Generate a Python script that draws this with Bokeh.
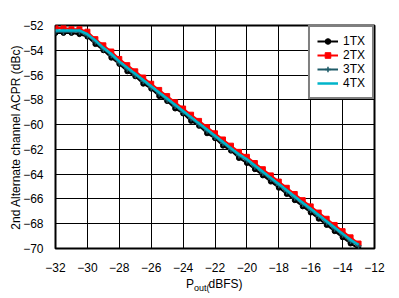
from bokeh.plotting import figure
from bokeh.layouts import column
from bokeh.models import Range1d, FixedTicker, Legend, LegendItem
from bokeh.core.properties import value
from bokeh.embed import file_html
from bokeh.resources import INLINE

pout = [-32, -31.5, -31, -30.5, -30, -29.5, -29, -28.5, -28, -27.5, -27, -26.5, -26,
        -25.5, -25, -24.5, -24, -23.5, -23, -22.5, -22, -21.5, -21, -20.5, -20,
        -19.5, -19, -18.5, -18, -17.5, -17, -16.5, -16, -15.5, -15, -14.5, -14, -13.5, -13]

acpr_1tx = [-52.6, -52.6, -52.6, -52.7, -52.9, -53.5, -54.0, -54.6, -55.1, -55.7, -56.1, -56.7, -57.1,
            -57.7, -58.1, -58.7, -59.1, -59.7, -60.1, -60.7, -61.1, -61.7, -62.1, -62.7, -63.1,
            -63.6, -64.1, -64.6, -65.1, -65.6, -66.1, -66.6, -67.1, -67.6, -68.1, -68.6, -69.1, -69.6, -70.0]
acpr_2tx = [-52.2, -52.2, -52.3, -52.3, -52.5, -53.1, -53.6, -54.1, -54.7, -55.2, -55.7, -56.2, -56.7,
            -57.2, -57.7, -58.2, -58.7, -59.2, -59.7, -60.2, -60.7, -61.2, -61.7, -62.2, -62.6,
            -63.1, -63.6, -64.1, -64.6, -65.1, -65.6, -66.1, -66.6, -67.1, -67.6, -68.1, -68.6, -69.1, -69.6]
acpr_3tx = [-52.5, -52.5, -52.5, -52.5, -52.8, -53.3, -53.9, -54.4, -55.0, -55.5, -56.0, -56.5, -57.0,
            -57.5, -58.0, -58.5, -59.0, -59.5, -60.0, -60.5, -61.0, -61.5, -62.0, -62.5, -62.9,
            -63.4, -63.9, -64.4, -64.9, -65.4, -65.9, -66.4, -66.9, -67.4, -67.9, -68.4, -68.9, -69.4, -69.8]
acpr_4tx = [-52.4, -52.4, -52.4, -52.4, -52.7, -53.2, -53.8, -54.3, -54.9, -55.4, -55.9, -56.4, -56.9,
            -57.4, -57.9, -58.4, -58.9, -59.4, -59.9, -60.4, -60.9, -61.4, -61.9, -62.4, -62.8,
            -63.3, -63.8, -64.3, -64.8, -65.3, -65.8, -66.3, -66.8, -67.3, -67.8, -68.3, -68.8, -69.3, -69.7]

series_names = ["1TX", "2TX", "3TX", "4TX"]
x_ticks = [-32, -30, -28, -26, -24, -22, -20, -18, -16, -14, -12]
y_ticks = [-70, -68, -66, -64, -62, -60, -58, -56, -54, -52]
x_label_main = "P"
x_label_sub = "out("
x_label_rest = "dBFS)"

FONT = "Liberation Sans"

x_range = Range1d(-32, -12)

p = figure(width=399, height=274, output_backend="svg", toolbar_location=None,
           x_range=x_range, y_range=Range1d(-70, -52),
           min_border_left=55, min_border_right=25, min_border_top=25, min_border_bottom=25)
p.background_fill_color = "white"
p.border_fill_color = "white"
p.outline_line_color = "black"
p.outline_line_width = 2

for ax in (p.xaxis[0], p.yaxis[0]):
    ax.major_tick_line_color = None
    ax.minor_tick_line_color = None
    ax.axis_line_color = None
    ax.major_label_text_font = FONT
    ax.major_label_text_font_size = "12px"
    ax.major_label_text_color = "black"

p.xaxis.ticker = FixedTicker(ticks=x_ticks)
p.yaxis.ticker = FixedTicker(ticks=y_ticks)
p.xaxis.major_label_standoff = 8
p.yaxis.major_label_standoff = 6
p.yaxis.axis_label = "2nd Alternate channel ACPR (dBc)"
p.yaxis.axis_label_text_font = FONT
p.yaxis.axis_label_text_font_size = "12px"
p.yaxis.axis_label_text_font_style = "normal"
p.yaxis.axis_label_text_color = "black"
p.yaxis.axis_label_standoff = -3

p.xgrid.ticker = FixedTicker(ticks=x_ticks)
p.ygrid.ticker = FixedTicker(ticks=y_ticks)
p.grid.grid_line_color = "black"
p.grid.grid_line_width = 1
p.grid.grid_line_alpha = 1

items = []
l1 = p.line(pout, acpr_1tx, line_color="black", line_width=2)
m1 = p.scatter(pout, acpr_1tx, marker="circle", size=5, fill_color="black", line_color="black")
items.append(LegendItem(label=series_names[0], renderers=[l1, m1]))
l2 = p.line(pout, acpr_2tx, line_color="#FF0000", line_width=2)
m2 = p.scatter(pout, acpr_2tx, marker="square", size=5, fill_color="#FF0000", line_color="#FF0000")
items.append(LegendItem(label=series_names[1], renderers=[l2, m2]))
l3 = p.line(pout, acpr_3tx, line_color="#1F5B68", line_width=2)
m3 = p.scatter(pout, acpr_3tx, marker="cross", size=6, line_color="#1F5B68", line_width=1.5)
items.append(LegendItem(label=series_names[2], renderers=[l3, m3]))
l4 = p.line(pout, acpr_4tx, line_color="#00B4CA", line_width=2.5)
items.append(LegendItem(label=series_names[3], renderers=[l4]))

legend = Legend(items=items, location="top_right")
legend.margin = 0
legend.padding = 7
legend.spacing = 0
legend.label_height = 14
legend.glyph_height = 14
legend.glyph_width = 21
legend.label_standoff = 5
legend.label_text_font = FONT
legend.label_text_font_size = "12px"
legend.label_text_color = "black"
legend.border_line_color = "black"
legend.border_line_width = 2
legend.background_fill_color = "white"
legend.background_fill_alpha = 1
p.add_layout(legend, "center")

# strip below the chart holding the x-axis title  P_out(dBFS)
q = figure(width=399, height=24, output_backend="svg", toolbar_location=None,
           x_range=x_range, y_range=Range1d(0, 24),
           min_border_left=55, min_border_right=25, min_border_top=0, min_border_bottom=0,
           x_axis_type=None, y_axis_type=None)
q.outline_line_color = None
q.grid.visible = False
q.background_fill_color = "white"
q.border_fill_color = "white"
q.text(x=[-23.82], y=[14.3], text=[x_label_main], text_font=value(FONT),
       text_font_size="12px", text_baseline="alphabetic", text_align="left", text_color="black")
q.text(x=[-23.32], y=[11.0], text=[x_label_sub], text_font=value(FONT),
       text_font_size="9px", text_baseline="alphabetic", text_align="left", text_color="black")
q.text(x=[-22.41], y=[14.3], text=[x_label_rest], text_font=value(FONT),
       text_font_size="12px", text_baseline="alphabetic", text_align="left", text_color="black")

layout = column(p, q, spacing=0)
open("out.html", "w").write(file_html(layout, INLINE))
